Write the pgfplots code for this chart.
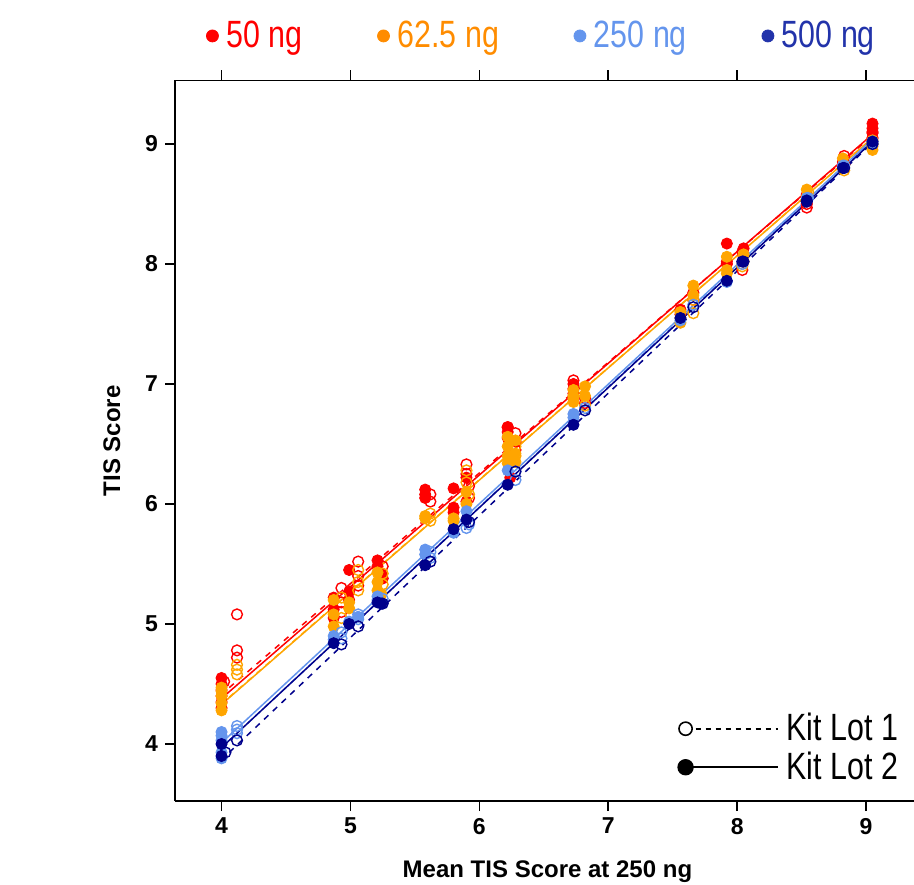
\documentclass[border=0pt]{standalone}
\usepackage{fontspec}
\setmainfont{Liberation Sans}
\newfontfamily\narrow[FakeStretch=0.8]{Liberation Sans}
\usepackage{pgfplots}
\pgfplotsset{compat=1.18}

\definecolor{cRed}{HTML}{FF0000}
\definecolor{cOrange}{HTML}{FFA500}
\definecolor{cOrangeLeg}{HTML}{FF8C00}
\definecolor{cLBlue}{HTML}{6495ED}
\definecolor{cDBlue}{HTML}{00008B}
\definecolor{cDBlueLeg}{HTML}{2233AA}

\pgfplotsset{
  lotone/.style={only marks, mark=o, mark size=2.7pt, line width=0.7pt},
  lottwo/.style={only marks, mark=*, mark size=2.8pt},
  fitone/.style={no marks, dash pattern=on 3pt off 3pt, line width=0.75pt},
  fittwo/.style={no marks, solid, line width=0.75pt},
  frame/.style={
    scale only axis, width=369.5pt, height=360.25pt,
    at={(87.5pt,41.5pt)}, anchor=south west,
    xmin=3.639, xmax=9.372, ymin=3.525, ymax=9.529,
  },
}

\begin{document}
\begin{tikzpicture}
\useasboundingbox (0,0) rectangle (457pt,442pt);

\begin{axis}[frame,
  axis x line=box, axis y line=left,
  axis line style={-, line width=0.8pt},
  xtick={4,5,6,7,8,9}, ytick={4,5,6,7,8,9},
  xtick pos=both, xticklabel pos=lower, ytick pos=left,
  tick align=outside, major tick length=5pt,
  tick style={line width=0.8pt, black},
  ticklabel style={font=\bfseries\fontsize{11.5}{14}\selectfont},
  /pgf/number format/assume math mode=true,
  xlabel={Mean TIS Score at 250 ng},
  ylabel={TIS Score},
  every axis x label/.style={at={(axis description cs:0.504,-0.1055)}, anchor=base,
    font=\bfseries\fontsize{12}{14}\selectfont},
  every axis y label/.style={at={(axis description cs:-0.0744,0.5)}, rotate=90, anchor=base,
    font=\bfseries\fontsize{12}{14}\selectfont},
  legend image code/.code={\draw[#1, mark repeat=2, mark phase=1] plot coordinates {(0pt,0pt) (46pt,0pt)};},
  legend style={at={(axis description cs:0.6806,0.0736)}, anchor=west,
    draw=none, fill=none, inner sep=0pt, row sep=0pt,
    font=\narrow\fontsize{19}{19}\selectfont,
    /tikz/every odd column/.append style={column sep=2pt}},
  legend cell align=left,
]
% 50 ng
\addplot[lottwo, cRed, forget plot] coordinates {
(4.00,4.30)(4.00,4.35)(4.00,4.40)(4.00,4.45)(4.00,4.50)(4.00,4.55)
(4.87,5.05)(4.87,5.12)(4.87,5.22)
(4.99,5.45)(4.99,5.27)(4.99,5.20)
(5.21,5.53)(5.21,5.48)(5.24,5.42)(5.24,5.38)
(5.58,6.12)(5.58,6.08)(5.58,6.05)
(5.80,6.13)(5.80,5.97)(5.80,5.93)
(5.90,6.22)(5.90,6.02)
(6.22,6.64)(6.22,6.60)(6.22,6.55)(6.24,6.22)
(6.73,7.00)(6.73,6.96)(6.73,6.92)
(7.56,7.62)(7.56,7.58)
(7.92,8.17)(7.92,8.02)(8.05,8.13)
(8.54,8.52)(8.54,8.58)
(8.82,8.85)
(9.05,9.17)(9.05,9.13)(9.05,9.09)};
\addplot[lotone, cRed, forget plot] coordinates {
(4.12,5.08)(4.12,4.78)(4.12,4.72)(4.02,4.52)
(4.93,5.30)(4.93,5.18)(4.93,5.10)
(5.06,5.52)(5.06,5.40)(5.06,5.32)
(5.25,5.48)(5.25,5.38)
(5.62,6.08)(5.62,6.02)
(5.90,6.33)(5.90,6.25)(5.92,6.15)(5.92,6.05)
(6.22,6.64)(6.28,6.59)(6.28,6.52)(6.28,6.45)
(6.73,7.03)(6.82,6.88)(6.82,6.84)
(7.66,7.76)(7.66,7.70)
(8.04,8.10)(8.04,7.95)(7.92,8.00)
(8.54,8.47)(8.54,8.50)
(8.83,8.90)(8.83,8.83)
(9.05,9.10)(9.05,9.05)};
% 62.5 ng
\addplot[lottwo, cOrange, forget plot] coordinates {
(4.00,4.28)(4.00,4.34)(4.00,4.40)(4.00,4.44)(4.00,4.47)
(4.87,4.98)(4.87,5.08)(4.87,5.20)
(4.99,5.13)(4.99,5.18)
(5.21,5.43)(5.21,5.35)(5.21,5.28)(5.24,5.25)
(5.58,5.90)(5.58,5.88)
(5.80,5.88)(5.80,5.86)
(5.90,6.10)(5.90,6.00)
(6.22,6.56)(6.22,6.48)(6.22,6.40)(6.22,6.34)
(6.28,6.53)(6.28,6.42)(6.28,6.35)
(6.73,6.95)(6.73,6.88)(6.73,6.85)
(6.82,6.98)(6.82,6.90)
(7.56,7.60)(7.56,7.55)(7.56,7.51)
(7.66,7.82)(7.66,7.74)
(7.92,8.06)(7.92,7.95)(7.92,7.92)
(8.05,8.08)(8.05,8.02)
(8.54,8.62)(8.54,8.56)
(8.82,8.88)(8.82,8.80)
(9.05,9.03)(9.05,8.98)(9.05,8.95)};
\addplot[lotone, cOrange, forget plot] coordinates {
(4.12,4.66)(4.12,4.62)(4.12,4.58)
(4.93,5.22)(4.93,5.05)
(5.06,5.45)(5.06,5.35)(5.06,5.28)
(5.25,5.42)(5.25,5.33)
(5.62,5.92)(5.62,5.86)
(5.90,6.28)(5.90,6.18)(5.92,6.08)
(6.28,6.48)(6.28,6.40)
(6.82,6.82)(6.73,6.90)
(7.66,7.59)(7.66,7.70)
(8.04,8.00)(8.04,7.98)
(8.55,8.60)
(8.83,8.82)(8.83,8.78)
(9.05,9.00)};
% 250 ng
\addplot[lottwo, cLBlue, forget plot] coordinates {
(4.00,3.88)(4.00,3.93)(4.00,4.03)(4.00,4.07)(4.00,4.10)
(4.87,4.87)(4.87,4.90)
(4.99,5.02)(5.06,5.06)
(5.21,5.23)(5.21,5.20)
(5.58,5.62)(5.58,5.58)
(5.80,5.76)
(5.90,5.94)
(6.22,6.28)
(6.73,6.72)(6.73,6.75)
(7.56,7.53)
(7.92,7.85)
(8.54,8.55)
(8.82,8.82)
(9.05,9.00)};
\addplot[lotone, cLBlue, forget plot] coordinates {
(4.12,4.15)(4.12,4.12)(4.12,4.09)
(4.93,4.93)(4.93,4.88)
(5.06,5.08)(5.06,5.04)
(5.25,5.21)
(5.62,5.60)(5.62,5.55)
(5.90,5.80)(5.92,5.83)
(6.28,6.20)(6.28,6.27)
(6.82,6.80)
(7.66,7.66)
(8.04,8.00)
(8.55,8.55)
(8.83,8.82)
(9.05,9.02)};
% 500 ng
\addplot[lottwo, cDBlue, forget plot] coordinates {
(4.00,3.90)(4.00,4.00)
(4.87,4.84)
(4.99,5.00)
(5.21,5.18)(5.24,5.17)
(5.58,5.49)
(5.80,5.79)
(5.90,5.87)
(6.22,6.16)
(6.73,6.66)
(7.56,7.55)
(7.92,7.86)
(8.05,8.02)
(8.54,8.53)
(8.82,8.80)
(9.05,9.02)};
\addplot[lotone, cDBlue, forget plot] coordinates {
(4.03,3.93)(4.12,4.03)
(4.93,4.83)
(5.06,4.98)
(5.25,5.17)
(5.62,5.52)
(5.92,5.85)
(6.28,6.27)
(6.82,6.78)
(7.66,7.64)
(8.04,8.02)
(8.54,8.52)
(8.83,8.80)
(9.05,9.00)};
% fitted lines
\addplot[fitone, cRed, forget plot] coordinates {(4.06,4.47)(9.05,9.07)};
\addplot[fittwo, cRed, forget plot] coordinates {(4.00,4.38)(9.05,9.08)};
\addplot[fitone, cOrange, forget plot] coordinates {(4.06,4.39)(9.05,9.05)};
\addplot[fittwo, cOrange, forget plot] coordinates {(4.00,4.33)(9.05,9.05)};
\addplot[fitone, cLBlue, forget plot] coordinates {(4.06,4.03)(9.05,9.03)};
\addplot[fittwo, cLBlue, forget plot] coordinates {(4.00,4.01)(9.05,9.04)};
\addplot[fitone, cDBlue, forget plot] coordinates {(4.06,3.93)(9.05,9.01)};
\addplot[fittwo, cDBlue, forget plot] coordinates {(4.00,3.97)(9.05,9.02)};

\addlegendimage{black, line width=1pt, dash pattern=on 2.5pt off 2.5pt, mark=*, mark size=3.3pt, mark options={solid, fill=white, line width=0.8pt}}
\addlegendentry{Kit Lot 1}
\addlegendimage{black, line width=1pt, solid, mark=*, mark size=3.6pt}
\addlegendentry{Kit Lot 2}
\end{axis}

\begin{axis}[frame, hide axis,
  legend image code/.code={\draw[#1, only marks] plot coordinates {(3pt,0pt)};},
  legend style={at={(axis description cs:0.042,1.0618)}, anchor=west,
    draw=none, fill=none, inner sep=0pt, legend columns=4,
    font=\narrow\fontsize{19}{19}\selectfont,
    /tikz/every odd column/.append style={column sep=2pt},
    /tikz/every even column/.append style={column sep=35.5pt}},
]
\addlegendimage{cRed, mark=*, mark size=3pt}
\addlegendentry{\textcolor{cRed}{50 ng}}
\addlegendimage{cOrangeLeg, mark=*, mark size=3pt}
\addlegendentry{\textcolor{cOrangeLeg}{62.5 ng}}
\addlegendimage{cLBlue, mark=*, mark size=3pt}
\addlegendentry{\textcolor{cLBlue}{250 ng}}
\addlegendimage{cDBlueLeg, mark=*, mark size=3pt}
\addlegendentry{\textcolor{cDBlueLeg}{500 ng}}
\end{axis}
\end{tikzpicture}
\end{document}
